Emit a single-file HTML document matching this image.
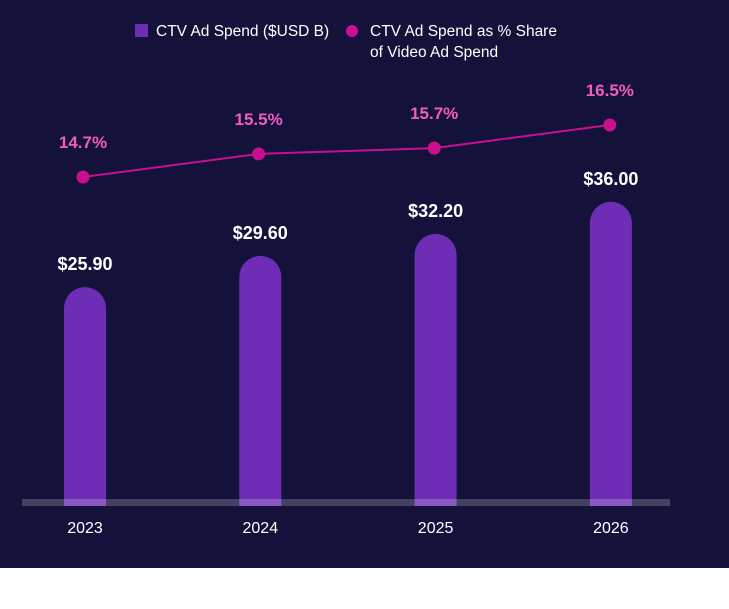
<!DOCTYPE html>
<html><head><meta charset="utf-8"><style>
body{margin:0;width:729px;height:609px;background:#fff;overflow:hidden;font-family:"Liberation Sans",sans-serif}
#bg{position:absolute;left:0;top:0;width:729px;height:568px;background:#14123a}
svg{position:absolute;left:0;top:0}
</style></head><body>
<div id="bg"></div>
<svg id="c" width="729" height="609">
<g>
<rect x="135" y="24" width="13" height="13" fill="#6d2eb5"/>
<text x="156" y="36" fill="#fff" font-size="15.5">CTV Ad Spend ($USD B)</text>
<circle cx="352" cy="31" r="6" fill="#c8108f"/>
<text x="370" y="36" fill="#fff" font-size="15.5"><tspan x="370">CTV Ad Spend as % Share</tspan><tspan x="370" dy="21">of Video Ad Spend</tspan></text>
</g>
</svg>
<script>
const categories=["2023","2024","2025","2026"];
const spend=[25.9,29.6,32.2,36.0];
const share=[14.7,15.5,15.7,16.5];
const spendLabels=["$25.90","$29.60","$32.20","$36.00"];
const shareLabels=["14.7%","15.5%","15.7%","16.5%"];
const svg=document.getElementById('c');const NS="http://www.w3.org/2000/svg";
function mk(t,a,p){const e=document.createElementNS(NS,t);for(const k in a)e.setAttribute(k,a[k]);(p||svg).appendChild(e);return e;}
const xBar=i=>85+i*175.3;
const xPt=i=>83+i*175.6;
const base=506, yBar=v=>base-v*8.45;
const yLine=v=>177-(v-14.7)*28.9;
const bw=42;
categories.forEach((c,i)=>{
  const x=xBar(i),top=yBar(spend[i]);
  const p=mk('path',{d:`M${x-bw/2},${base} L${x-bw/2},${top+bw/2} A${bw/2},${bw/2} 0 0 1 ${x+bw/2},${top+bw/2} L${x+bw/2},${base} Z`,fill:'#6d2eb5'});
  
  
  const t=mk('text',{x:x,y:top-17,fill:'#fff','font-size':18,'font-weight':'bold','text-anchor':'middle'});
  t.textContent=spendLabels[i];
  
  
  const xl=mk('text',{x:x,y:533,fill:'#fff','font-size':16,'text-anchor':'middle'});
  xl.textContent=c;
  
  
});
const axis=mk('rect',{x:22,y:499,width:648,height:7,fill:'#ffffff',opacity:0.2});


const line=mk('polyline',{points:share.map((v,i)=>xPt(i)+','+yLine(v)).join(' '),fill:'none',stroke:'#c8108f','stroke-width':2});


share.forEach((v,i)=>{
  const d=mk('circle',{cx:xPt(i),cy:yLine(v),r:6.5,fill:'#c8108f'});
  
  
  const t=mk('text',{x:xPt(i),y:yLine(v)-29,fill:'#f05cc0','font-size':17,'font-weight':'bold','text-anchor':'middle'});
  t.textContent=shareLabels[i];
  
  
});
</script>
</body></html>
